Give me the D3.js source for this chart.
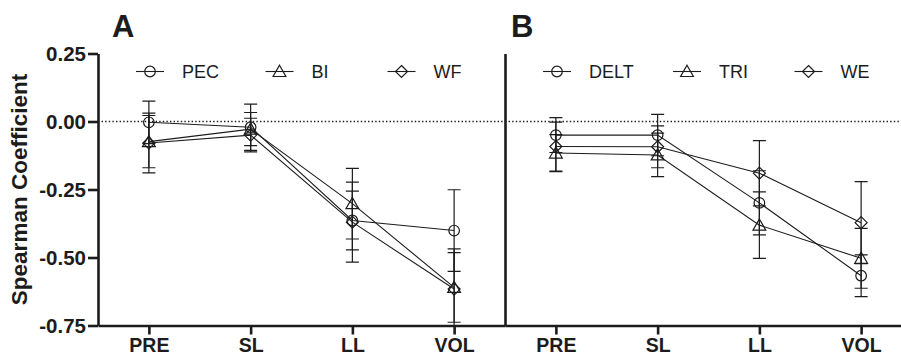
<!DOCTYPE html>
<html>
<head>
<meta charset="utf-8">
<script src="https://cdn.jsdelivr.net/npm/d3@7"></script>
<style>
  html, body { margin: 0; padding: 0; background: #fff; }
  svg { display: block; font-family: "Liberation Sans", Arial, sans-serif; }
</style>
</head>
<body>
<svg id="chart" width="901" height="356"></svg>
<script>
// Time points shared by both panels
const categories = ["PRE", "SL", "LL", "VOL"];
const yTicks = [0.25, 0, -0.25, -0.5, -0.75];

// Panel A series (mean ± error)
const pecMean = [-0.003, -0.021, -0.364, -0.401];
const pecErr  = [0.078, 0.085, 0.108, 0.150];
const biMean  = [-0.074, -0.028, -0.302, -0.610];
const biErr   = [0.096, 0.061, 0.130, 0.128];
const wfMean  = [-0.079, -0.050, -0.370, -0.616];
const wfErr   = [0.110, 0.062, 0.147, 0.148];

// Panel B series (mean ± error)
const deltMean = [-0.050, -0.050, -0.299, -0.567];
const deltErr  = [0.064, 0.076, 0.118, 0.077];
const triMean  = [-0.116, -0.123, -0.381, -0.503];
const triErr   = [0.068, 0.080, 0.122, 0.110];
const weMean   = [-0.092, -0.093, -0.190, -0.372];
const weErr    = [0.090, 0.077, 0.120, 0.151];

const panels = [
  { letter: "A", x0: 98, x1: 505, showY: true,
    series: [
      { name: "PEC", shape: "circle",   mean: pecMean, err: pecErr },
      { name: "BI",  shape: "triangle", mean: biMean,  err: biErr },
      { name: "WF",  shape: "diamond",  mean: wfMean,  err: wfErr }
    ],
    legendX: [150, 279.5, 401.5] },
  { letter: "B", x0: 505, x1: 912, showY: false,
    series: [
      { name: "DELT", shape: "circle",   mean: deltMean, err: deltErr },
      { name: "TRI",  shape: "triangle", mean: triMean,  err: triErr },
      { name: "WE",   shape: "diamond",  mean: weMean,   err: weErr }
    ],
    legendX: [557, 687, 808.5] }
];

const ink = "#1c1c1c";
const svg = d3.select("#chart");

const y = d3.scaleLinear().domain([-0.75, 0.25]).range([325.5, 53.5]);

function markerPath(shape) {
  if (shape === "circle") {
    const p = d3.path(); p.arc(0, 0, 5.3, 0, 2 * Math.PI); p.closePath(); return p.toString();
  }
  if (shape === "triangle") return "M0,-6.2L6.4,5L-6.4,5Z";
  return "M0,-6L6,0L0,6L-6,0Z";
}

svg.append("defs").append("clipPath").attr("id", "plotClip")
  .append("rect").attr("x", 0).attr("y", 30).attr("width", 901).attr("height", 325.5 - 30);

panels.forEach(panel => {
  const x = d3.scalePoint().domain(categories).range([panel.x0, panel.x1]).padding(0.5);
  const g = svg.append("g");

  // zero reference line
  g.append("line")
    .attr("x1", panel.x0).attr("x2", Math.min(panel.x1, 901))
    .attr("y1", y(0)).attr("y2", y(0))
    .attr("stroke", ink).attr("stroke-width", 1.3)
    .attr("stroke-dasharray", "1.4,2.2");

  const plot = g.append("g").attr("clip-path", "url(#plotClip)");

  // error bars
  panel.series.forEach(s => {
    categories.forEach((c, i) => {
      const cx = x(c), lo = y(s.mean[i] - s.err[i]), hi = y(s.mean[i] + s.err[i]);
      plot.append("line").attr("x1", cx).attr("x2", cx).attr("y1", lo).attr("y2", hi)
        .attr("stroke", ink).attr("stroke-width", 1.2);
      [lo, hi].forEach(yy => plot.append("line")
        .attr("x1", cx - 6.5).attr("x2", cx + 6.5).attr("y1", yy).attr("y2", yy)
        .attr("stroke", ink).attr("stroke-width", 1.2));
    });
  });

  // connecting lines
  const line = d3.line().x((d, i) => x(categories[i])).y(d => y(d));
  panel.series.forEach(s => {
    plot.append("path").datum(s.mean).attr("d", line)
      .attr("fill", "none").attr("stroke", ink).attr("stroke-width", 1.1);
  });

  // markers
  panel.series.forEach(s => {
    plot.selectAll(null).data(s.mean).enter().append("path")
      .attr("transform", (d, i) => `translate(${x(categories[i])},${y(d)})`)
      .attr("d", markerPath(s.shape))
      .attr("fill", "none").attr("stroke", ink).attr("stroke-width", 1.2);
  });

  // axes
  const xAxis = g.append("g").attr("transform", `translate(0,${y(-0.75)})`)
    .call(d3.axisBottom(x).tickSize(9).tickSizeOuter(0).tickPadding(4));
  xAxis.select(".domain").attr("stroke", ink).attr("stroke-width", 2.6);
  xAxis.selectAll(".tick line").attr("stroke", ink).attr("stroke-width", 2.6);
  xAxis.selectAll(".tick text").attr("fill", ink)
    .attr("font-size", 19.5).attr("font-weight", "bold")
    .attr("font-family", "'Liberation Sans', Arial, sans-serif");

  const yAxis = g.append("g").attr("transform", `translate(${panel.x0},0)`)
    .call(d3.axisLeft(y).tickValues(panel.showY ? yTicks : [])
      .tickFormat(d => d.toFixed(2)).tickSize(10).tickSizeOuter(0).tickPadding(2));
  yAxis.select(".domain").attr("stroke", ink).attr("stroke-width", 2.6);
  yAxis.selectAll(".tick line").attr("stroke", ink).attr("stroke-width", 2.6);
  yAxis.selectAll(".tick text").attr("fill", ink)
    .attr("font-size", 20.5).attr("font-weight", "bold")
    .attr("font-family", "'Liberation Sans', Arial, sans-serif");

  // panel letter
  g.append("text").attr("x", panel.x0 + (panel.showY ? 14 : 6)).attr("y", 36.5)
    .attr("font-size", 31).attr("font-weight", "bold").attr("fill", ink)
    .text(panel.letter);

  // legend
  panel.series.forEach((s, i) => {
    const lx = panel.legendX[i], ly = 71.5;
    g.append("line").attr("x1", lx - 14).attr("x2", lx + 14).attr("y1", ly).attr("y2", ly)
      .attr("stroke", ink).attr("stroke-width", 1.1);
    g.append("path").attr("transform", `translate(${lx},${ly})`)
      .attr("d", markerPath(s.shape))
      .attr("fill", "none").attr("stroke", ink).attr("stroke-width", 1.2);
    g.append("text").attr("x", lx + 32).attr("y", ly + 6.5)
      .attr("font-size", 18).attr("fill", ink).text(s.name);
  });
});

// shared y-axis title
svg.append("text")
  .attr("transform", `translate(27,${y(-0.25)}) rotate(-90)`)
  .attr("text-anchor", "middle")
  .attr("font-size", 22.5).attr("font-weight", "bold").attr("fill", ink)
  .text("Spearman Coefficient");
</script>
</body>
</html>
